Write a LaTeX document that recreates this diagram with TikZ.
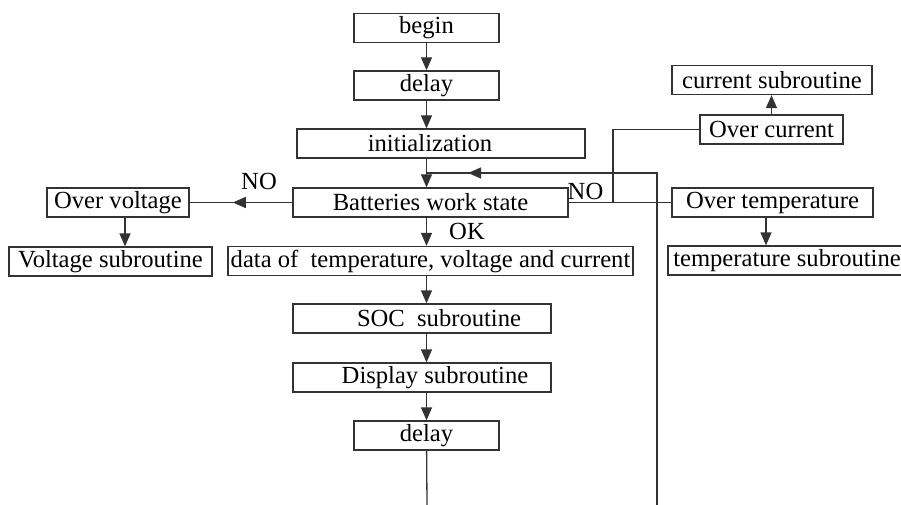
\documentclass[tikz,border=0pt]{standalone}
\usepackage{fontspec}
\setmainfont{Liberation Serif}
\usetikzlibrary{arrows.meta,decorations.markings}
\tikzset{
  block/.style={draw=black!80, line width=1.3pt, inner sep=1pt,
    minimum height=29pt, font=\fontsize{24.6}{29}\selectfont},
  tag/.style={inner sep=0pt, font=\fontsize{24.6}{29}\selectfont},
  wire/.style={draw=black!80, line width=1.3pt},
  flow/.style={wire, -{Triangle[length=13pt,width=11pt]}},
  midarrow/.style={postaction={decorate}, decoration={markings,
    mark=at position #1 with {\arrow{Triangle[length=13pt,width=11pt]}}}}
}
\begin{document}
\begin{tikzpicture}[x=1pt,y=-1pt]
      \useasboundingbox (0,0) rectangle (901,505);
      % main column
      \node[block, minimum width=145pt] (begin) at (426.5,28) {begin};
      \node[block, minimum width=145pt] (delay1) at (426.5,85.5) {delay};
      \node[block, minimum width=288pt] (init) at (441,143.5) {initialization\hspace*{22pt}};
      \node[block, minimum width=275pt] (state) at (430.5,202.5) {Batteries work state};
      \node[block, minimum width=405pt] (data) at (430.5,261) {data of\ \ temperature, voltage and current};
      \node[block, minimum width=258pt] (soc) at (422,318.5) {\hspace*{34pt}SOC\ \ subroutine};
      \node[block, minimum width=258pt] (display) at (422,377.5) {\hspace*{26pt}Display subroutine};
      \node[block, minimum width=145pt] (delay2) at (426.5,435.5) {delay};
      % left branch
      \node[block, minimum width=142pt] (overvolt) at (118,202.5) {Over voltage};
      \node[block, minimum width=203pt] (voltsub) at (110.5,261.5) {Voltage subroutine};
      % right branch
      \node[block, minimum width=143pt] (overcur) at (771.5,129.5) {Over current};
      \node[block, minimum width=200pt] (cursub) at (772,80) {current subroutine};
      \node[block, minimum width=201pt] (overtemp) at (772.5,202.5) {Over temperature};
      \node[block, minimum width=238pt] (tempsub) at (787,260.5) {temperature subroutine};
      % labels
      \node[tag] (no1) at (259,181) {NO};
      \node[tag] (no2) at (585.5,191) {NO};
      \node[tag] (ok) at (467,231.5) {OK};
      % free ends
      \coordinate (loopin) at (427,173);
      \coordinate (loopend) at (657,505);
      \coordinate (exit) at (427,505);
      \coordinate (branch) at (613,202.5);
      \begin{scope}
        \draw[flow] (begin) -- (delay1);
        \draw[flow] (delay1) -- (delay1 |- init.north);
        \draw[flow] (init.south -| begin) -- (state.north -| begin);
        \draw[flow] (state.south -| begin) -- (data.north -| begin);
        \draw[flow] (data.south -| begin) -- (soc.north -| begin);
        \draw[flow] (soc.south -| begin) -- (display.north -| begin);
        \draw[flow] (display.south -| begin) -- (delay2);
        \draw[wire] (delay2) -- (exit);
        \draw[wire, midarrow=0.927] (loopend) |- (loopin);
        \draw[wire, midarrow=0.58] (state.west) -- (overvolt.east);
        \draw[flow] (overvolt.south -| 125,0) -- (voltsub.north -| 125,0);
        \draw[wire] (state.east) -- (overtemp.west);
        \draw[wire] (branch) |- (overcur.west);
        \draw[flow] (overcur.north) -- (overcur.north |- cursub.south);
        \draw[flow] (overtemp.south -| 766,0) -- (tempsub.north -| 766,0);
      \end{scope}
\end{tikzpicture}
\end{document}
